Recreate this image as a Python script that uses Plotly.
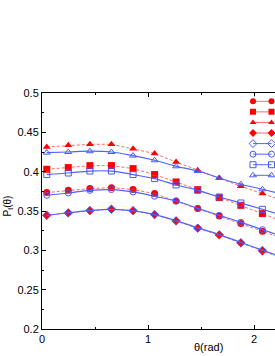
import plotly.graph_objects as go

theta = [0.045, 0.248, 0.452, 0.655, 0.859, 1.062, 1.265, 1.469, 1.672, 1.876, 2.079, 2.283]

red_circle   = [0.3734, 0.3763, 0.3785, 0.3797, 0.3772, 0.3721, 0.3627, 0.3531, 0.3436, 0.3340, 0.3242, 0.3144]
red_square   = [0.4030, 0.4052, 0.4077, 0.4077, 0.4039, 0.3963, 0.3869, 0.3772, 0.3670, 0.3572, 0.3467, 0.3360]
red_triangle = [0.4314, 0.4335, 0.4348, 0.4348, 0.4291, 0.4230, 0.4123, 0.4017, 0.3920, 0.3814, 0.3721, 0.3626]
red_diamond  = [0.3445, 0.3475, 0.3505, 0.3525, 0.3505, 0.3454, 0.3373, 0.3280, 0.3195, 0.3093, 0.2992, 0.2892]

blue_diamond  = [0.3445, 0.3478, 0.3505, 0.3520, 0.3502, 0.3455, 0.3378, 0.3285, 0.3200, 0.3100, 0.3003, 0.2906]
blue_circle   = [0.3700, 0.3729, 0.3763, 0.3772, 0.3742, 0.3687, 0.3627, 0.3534, 0.3445, 0.3356, 0.3263, 0.3170]
blue_square   = [0.3963, 0.3983, 0.4008, 0.4008, 0.3963, 0.3912, 0.3831, 0.3763, 0.3678, 0.3602, 0.3522, 0.3440]
blue_triangle = [0.4242, 0.4250, 0.4260, 0.4250, 0.4204, 0.4145, 0.4068, 0.4009, 0.3920, 0.3840, 0.3776, 0.3710]

y_ticks = [0.2, 0.25, 0.3, 0.35, 0.4, 0.45, 0.5]
y_tick_labels = ["0.2", "0.25", "0.3", "0.35", "0.4", "0.45", "0.5"]
x_ticks = [0, 1, 2]
x_tick_labels = ["0", "1", "2"]

RED = "#ff0000"
RED_LINE = "#ff6a6a"
BLUE = "rgb(70,90,255)"
BLUE_LINE = "rgb(80,100,255)"

red_series = [
    (red_circle, "circle"),
    (red_square, "square"),
    (red_triangle, "triangle-up"),
    (red_diamond, "diamond"),
]
blue_series = [
    (blue_diamond, "diamond-open"),
    (blue_circle, "circle-open"),
    (blue_square, "square-open"),
    (blue_triangle, "triangle-up-open"),
]

fig = go.Figure()

for vals, sym in red_series:
    fig.add_trace(go.Scatter(
        x=theta, y=vals, mode="lines+markers",
        line=dict(color=RED_LINE, width=1, dash="3px,2px"),
        marker=dict(symbol=sym, color=RED, size=7 if "triangle" in sym else 7,
                    line=dict(width=0)),
        showlegend=False, cliponaxis=True))

for vals, sym in blue_series:
    fig.add_trace(go.Scatter(
        x=theta, y=vals, mode="lines+markers",
        line=dict(color=BLUE_LINE, width=1.2, shape="spline"),
        marker=dict(symbol=sym, color=BLUE, size=6,
                    line=dict(width=1, color=BLUE)),
        showlegend=False, cliponaxis=True))

# legend samples drawn on a small overlay axis (index-based rows)
legend_items = [(RED, RED_LINE, s) for _, s in red_series] + \
               [(BLUE, BLUE_LINE, s) for _, s in blue_series]
for i, (mc, lc, sym) in enumerate(legend_items):
    fig.add_trace(go.Scatter(
        x=[0, 1], y=[i, i], mode="lines+markers",
        xaxis="x2", yaxis="y2",
        line=dict(color=lc, width=1),
        marker=dict(symbol=sym, color=mc, size=6,
                    line=dict(width=1 if "open" in sym else 0, color=mc)),
        showlegend=False, hoverinfo="skip"))

font = "Liberation Sans, Arial, sans-serif"

fig.update_layout(
    width=275, height=356,
    margin=dict(l=42, r=0, t=93, b=27),
    paper_bgcolor="white", plot_bgcolor="white",
    font=dict(family=font, size=11, color="black"),
    xaxis=dict(
        range=[0, 2.198], tickvals=x_ticks, ticktext=x_tick_labels,
        ticks="inside", ticklen=4, tickcolor="black", tickwidth=1,
        minor=dict(ticks="inside", ticklen=2, dtick=0.5, tickcolor="black"),
        showline=True, linecolor="black", linewidth=1, mirror="ticks",
        showgrid=False, zeroline=False, tickfont=dict(size=11),
        automargin=False,
    ),
    yaxis=dict(
        range=[0.2, 0.5], tickvals=y_ticks, ticktext=y_tick_labels,
        ticks="inside", ticklen=4, tickcolor="black", tickwidth=1,
        minor=dict(ticks="inside", ticklen=2, dtick=0.025, tickcolor="black"),
        showline=True, linecolor="black", linewidth=1, mirror=False,
        showgrid=False, zeroline=False, tickfont=dict(size=11),
        automargin=False,
    ),
    xaxis2=dict(domain=[0.8755, 1.0], range=[-0.3784, 1.1892], anchor="y2",
                visible=False, fixedrange=True),
    yaxis2=dict(domain=[0.630, 0.986], range=[7.474, -0.473], anchor="x2",
                visible=False, fixedrange=True),
    showlegend=False,
    annotations=[
        dict(text="θ(rad)", x=1.575, xref="x", y=(328.7 - 347) / 236, yref="paper",
             showarrow=False, font=dict(size=11, family=font), yanchor="middle"),
        dict(text="P<sub>t</sub>(θ)", x=-0.145, xref="paper", y=0.52, yref="paper",
             textangle=-90, showarrow=False, font=dict(size=10, family=font),
             xanchor="center", yanchor="middle"),
    ],
)

fig.write_html("out.html", config={"displayModeBar": False},
               post_script="document.body.style.margin='0';document.body.style.overflow='hidden';")
